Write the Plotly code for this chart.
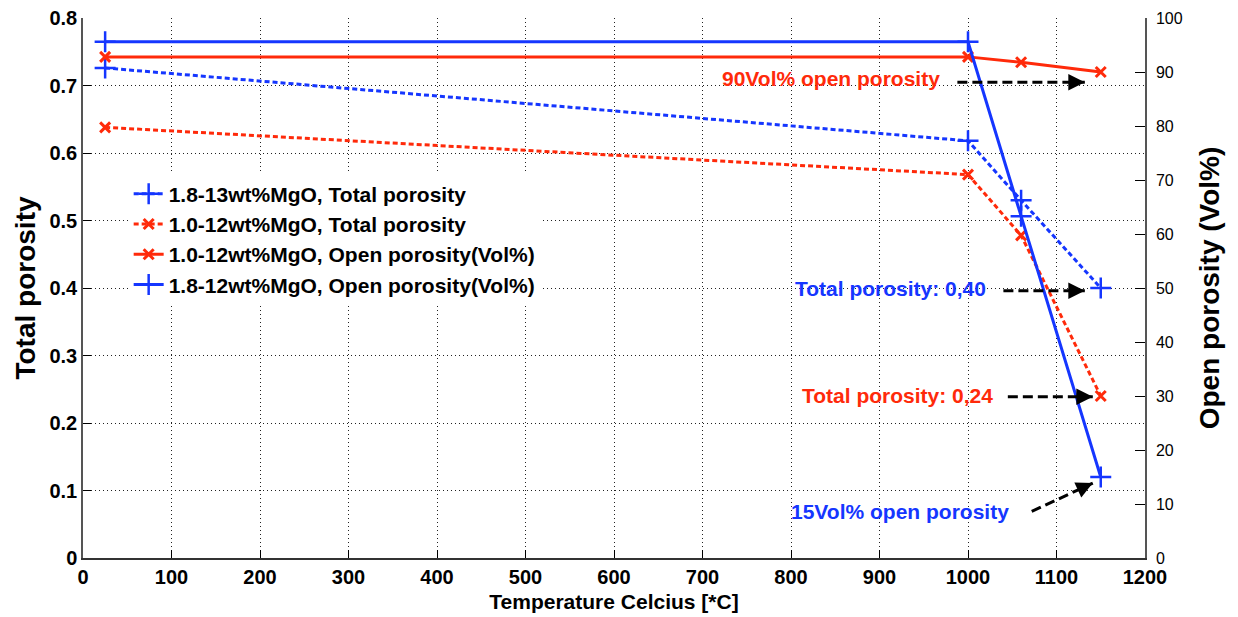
import plotly.graph_objects as go

# Sintering temperature (°C)
temperature = [25, 1000, 1060, 1150]

# Total porosity (fraction) – dotted series, left axis
total_18_13 = [0.726, 0.618, 0.530, 0.40]
total_10_12 = [0.638, 0.568, 0.478, 0.24]

# Open porosity (Vol%) – solid series, right axis
open_10_12 = [92.8, 92.8, 91.8, 90]
open_18_12 = [95.6, 95.6, 63.3, 15]

x_ticks = [0, 100, 200, 300, 400, 500, 600, 700, 800, 900, 1000, 1100, 1200]
left_ticks = [0, 0.1, 0.2, 0.3, 0.4, 0.5, 0.6, 0.7, 0.8]
left_labels = ["0", "0.1", "0.2", "0.3", "0.4", "0.5", "0.6", "0.7", "0.8"]
right_ticks = [0, 10, 20, 30, 40, 50, 60, 70, 80, 90, 100]

BLUE = "#1536ff"
RED = "#ff2a0a"
FONT = "Liberation Sans, Arial, sans-serif"

fig = go.Figure()

fig.add_trace(go.Scatter(
    x=temperature, y=total_18_13, name="1.8-13wt%MgO, Total porosity",
    mode="lines+markers",
    line=dict(color=BLUE, width=3, dash="5px,3px"),
    marker=dict(symbol="cross-thin-open", size=15, line=dict(color=BLUE, width=2.5)),
))
fig.add_trace(go.Scatter(
    x=temperature, y=total_10_12, name="1.0-12wt%MgO, Total porosity",
    mode="lines+markers",
    line=dict(color=RED, width=3, dash="5px,3px"),
    marker=dict(symbol="x-thin-open", size=10, line=dict(color=RED, width=3)),
))
fig.add_trace(go.Scatter(
    x=temperature, y=open_10_12, name="1.0-12wt%MgO, Open porosity(Vol%)",
    mode="lines+markers", yaxis="y2",
    line=dict(color=RED, width=3),
    marker=dict(symbol="x-thin-open", size=10, line=dict(color=RED, width=3)),
))
fig.add_trace(go.Scatter(
    x=temperature, y=open_18_12, name="1.8-12wt%MgO, Open porosity(Vol%)",
    mode="lines+markers", yaxis="y2",
    line=dict(color=BLUE, width=3),
    marker=dict(symbol="cross-thin-open", size=15, line=dict(color=BLUE, width=2.5)),
))

# Callout labels with dashed arrows: (text, colour, text x, text y, arrow start, arrow end)
callouts = [
    ("90Vol% open porosity", RED, 845, 0.710, (988, 0.705), (1132, 0.705)),
    ("Total porosity: 0,40", BLUE, 912, 0.399, (1040, 0.396), (1132, 0.396)),
    ("Total porosity: 0,24", RED, 920, 0.241, (1045, 0.239), (1141, 0.239)),
    ("15Vol% open porosity", BLUE, 923, 0.069, (1072, 0.069), (1141, 0.111)),
]

shapes = []
annotations = []
for text, color, tx, ty, (x0, y0), (x1, y1) in callouts:
    annotations.append(dict(
        x=tx, y=ty, xref="x", yref="y", text=f"<b>{text}</b>", showarrow=False,
        font=dict(family=FONT, size=21, color=color),
    ))
    shapes.append(dict(
        type="line", xref="x", yref="y", x0=x0, y0=y0, x1=x1, y1=y1,
        line=dict(color="black", width=3, dash="10px,5px"),
    ))
    # arrow head at the end of the dashed shaft
    fx = x1 - (x1 - x0) * 0.12
    fy = y1 - (y1 - y0) * 0.12
    annotations.append(dict(
        x=x1, y=y1, xref="x", yref="y", ax=fx, ay=fy, axref="x", ayref="y",
        text="", showarrow=True, arrowhead=2, arrowsize=1.1, arrowwidth=3,
        arrowcolor="black",
    ))

GRID = dict(showgrid=True, gridcolor="#222", griddash="1px,3px", gridwidth=1)

fig.update_layout(
    width=1238, height=617,
    margin=dict(l=83, r=93, t=18, b=59),
    paper_bgcolor="white", plot_bgcolor="white",
    font=dict(family=FONT, color="black"),
    showlegend=True,
    legend=dict(
        x=0.043, y=0.712, xanchor="left", yanchor="top",
        bgcolor="white", borderwidth=0,
        font=dict(family=FONT, size=21, color="black", weight="bold"),
        tracegroupgap=0, itemwidth=30,
    ),
    xaxis=dict(
        range=[0, 1200], tickvals=x_ticks, ticks="inside", ticklen=8,
        tickcolor="black", showline=True, linecolor="#333", linewidth=1.5,
        zeroline=False, automargin=False, **GRID,
        tickfont=dict(family=FONT, size=20, weight="bold"),
        title=dict(text="<b>Temperature Celcius [*C]</b>", font=dict(family=FONT, size=21), standoff=8),
    ),
    yaxis=dict(
        range=[0, 0.8], tickvals=left_ticks, ticktext=left_labels,
        ticks="inside", ticklen=8, tickcolor="black",
        showline=True, linecolor="#555", linewidth=1.5,
        zeroline=False, automargin=False, **GRID,
        tickfont=dict(family=FONT, size=20, weight="bold"),
        title=dict(text="<b>Total porosity</b>", font=dict(family=FONT, size=28), standoff=6),
    ),
    yaxis2=dict(
        range=[0, 100], tickvals=right_ticks, overlaying="y", side="right",
        ticks="inside", ticklen=10, tickcolor="black",
        showline=True, linecolor="#555", linewidth=1.5,
        showgrid=False, zeroline=False, automargin=False, ticklabelstandoff=6,
        tickfont=dict(family=FONT, size=16),
        title=dict(text="<b>Open porosity (Vol%)</b>", font=dict(family=FONT, size=28), standoff=18),
    ),
    shapes=shapes,
    annotations=annotations,
)

fig.write_html("out.html")
